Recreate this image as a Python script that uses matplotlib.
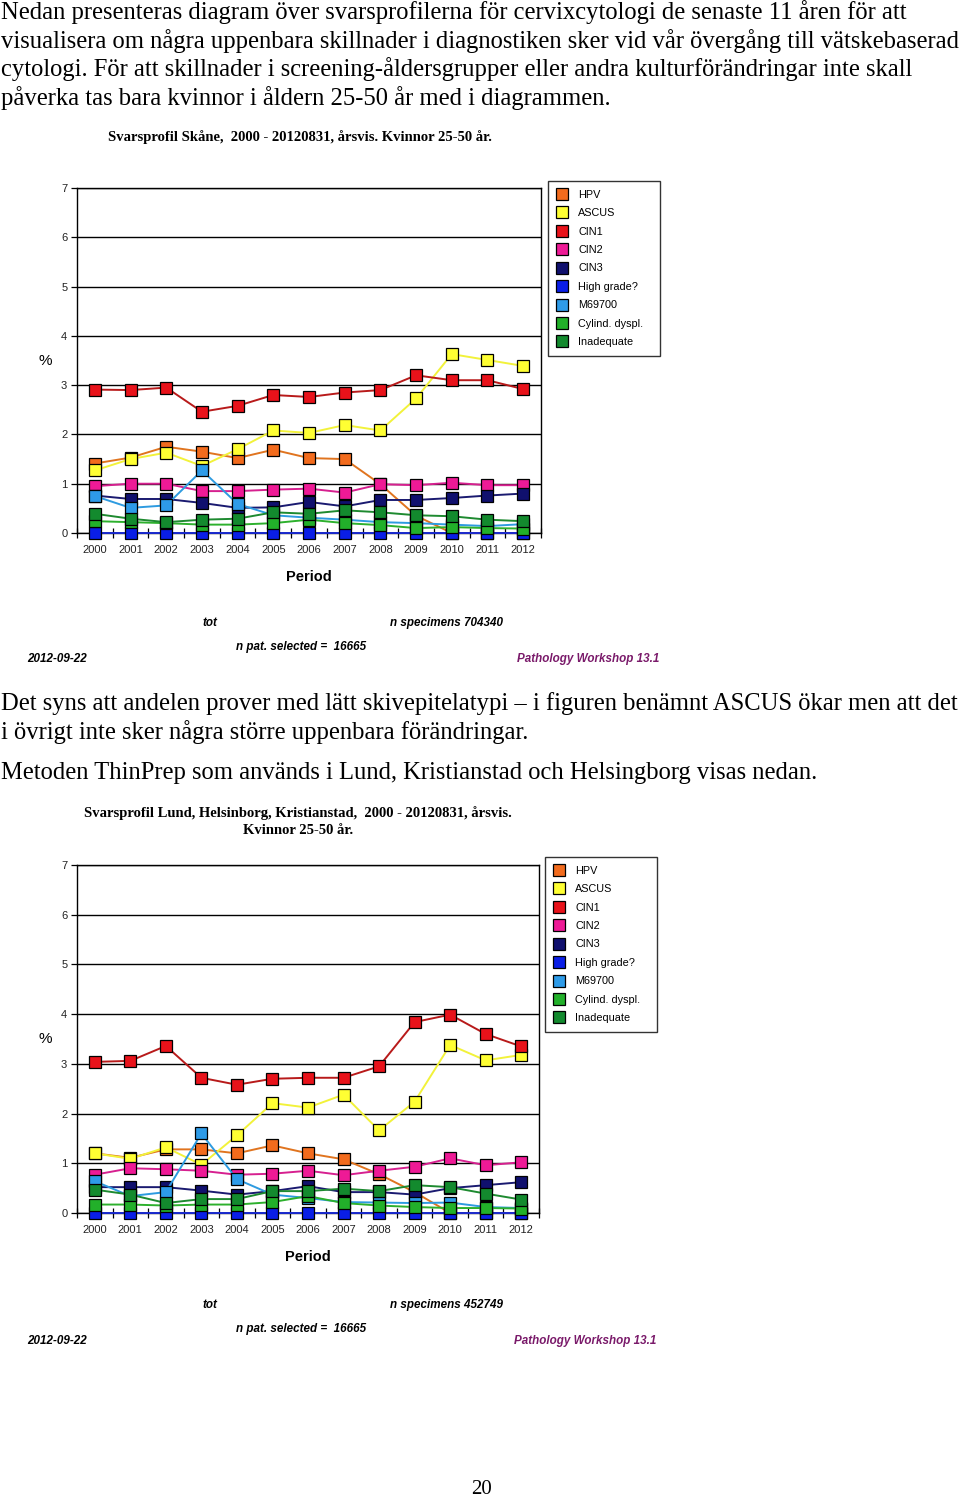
import matplotlib
matplotlib.use("Agg")
import matplotlib.pyplot as plt
from matplotlib.lines import Line2D

years = ["2000", "2001", "2002", "2003", "2004", "2005", "2006",
         "2007", "2008", "2009", "2010", "2011", "2012"]
series_names = ["HPV", "ASCUS", "CIN1", "CIN2", "CIN3", "High grade?",
                "M69700", "Cylind. dyspl.", "Inadequate"]

# Chart 1: Skåne
skane_hpv = [1.41, 1.53, 1.75, 1.65, 1.52, 1.69, 1.52, 1.50, 0.99, 0.35, 0.0, 0.0, 0.0]
skane_ascus = [1.27, 1.50, 1.63, 1.36, 1.70, 2.08, 2.03, 2.19, 2.08, 2.73, 3.63, 3.51, 3.39]
skane_cin1 = [2.91, 2.90, 2.95, 2.46, 2.58, 2.80, 2.76, 2.85, 2.90, 3.20, 3.10, 3.10, 2.92]
skane_cin2 = [0.95, 1.00, 1.00, 0.85, 0.85, 0.88, 0.90, 0.82, 0.99, 0.97, 1.02, 0.97, 0.97]
skane_cin3 = [0.76, 0.69, 0.69, 0.61, 0.51, 0.52, 0.63, 0.54, 0.67, 0.67, 0.71, 0.76, 0.80]
skane_high = [0.01] * 13
skane_m69700 = [0.75, 0.51, 0.56, 1.27, 0.59, 0.36, 0.31, 0.27, 0.22, 0.20, 0.17, 0.14, 0.18]
skane_cylind = [0.24, 0.22, 0.20, 0.17, 0.17, 0.20, 0.27, 0.20, 0.16, 0.10, 0.12, 0.10, 0.09]
skane_inadeq = [0.39, 0.29, 0.22, 0.27, 0.29, 0.42, 0.39, 0.46, 0.42, 0.36, 0.34, 0.27, 0.24]

# Chart 2: Lund, Helsingborg, Kristianstad
lund_hpv = [1.20, 1.11, 1.28, 1.28, 1.20, 1.36, 1.20, 1.08, 0.78, 0.42, 0.0, 0.0, 0.0]
lund_ascus = [1.20, 1.09, 1.32, 0.97, 1.56, 2.21, 2.12, 2.38, 1.66, 2.24, 3.38, 3.07, 3.18]
lund_cin1 = [3.04, 3.06, 3.36, 2.72, 2.58, 2.70, 2.72, 2.72, 2.95, 3.84, 3.99, 3.60, 3.35]
lund_cin2 = [0.77, 0.90, 0.88, 0.85, 0.77, 0.79, 0.85, 0.76, 0.85, 0.93, 1.10, 0.96, 1.02]
lund_cin3 = [0.52, 0.52, 0.52, 0.45, 0.37, 0.44, 0.54, 0.42, 0.42, 0.37, 0.50, 0.56, 0.62]
lund_high = [0.01] * 13
lund_m69700 = [0.64, 0.34, 0.42, 1.60, 0.68, 0.37, 0.30, 0.22, 0.21, 0.20, 0.21, 0.12, 0.10]
lund_cylind = [0.17, 0.17, 0.15, 0.17, 0.17, 0.22, 0.34, 0.20, 0.15, 0.12, 0.10, 0.10, 0.09]
lund_inadeq = [0.47, 0.37, 0.20, 0.28, 0.28, 0.44, 0.44, 0.49, 0.44, 0.56, 0.52, 0.39, 0.27]

yticks = [0, 1, 2, 3, 4, 5, 6, 7]

marker_colors = ["#F26B1D", "#FFFF33", "#E8121A", "#EE1A96", "#10106E",
                 "#0A1EE6", "#2E9BE8", "#22B02A", "#138A2E"]
line_colors = ["#E0741F", "#F2F23A", "#B81A1A", "#D6208F", "#1A1A70",
               "#1A2ACF", "#2E9BE0", "#2DB02D", "#1E8A30"]

W, H = 960, 1503
fig = plt.figure(figsize=(W / 100, H / 100), dpi=100)


def fx(px):
    return px / W


def fy(py):
    return 1 - py / H


serif = ["Liberation Serif", "DejaVu Serif"]
sans = ["Liberation Sans", "DejaVu Sans"]

body_size = 17.7
para1 = ["Nedan presenteras diagram över svarsprofilerna för cervixcytologi de senaste 11 åren för att",
         "visualisera om några uppenbara skillnader i diagnostiken sker vid vår övergång till vätskebaserad",
         "cytologi. För att skillnader i screening-åldersgrupper eller andra kulturförändringar inte skall",
         "påverka tas bara kvinnor i åldern 25-50 år med i diagrammen."]
for i, line in enumerate(para1):
    fig.text(fx(1), fy(12 + i * 28.7), line, family=serif, fontsize=body_size,
             va="center", ha="left")

para2 = [(704, "Det syns att andelen prover med lätt skivepitelatypi – i figuren benämnt ASCUS ökar men att det"),
         (732, "i övrigt inte sker några större uppenbara förändringar."),
         (773, "Metoden ThinPrep som används i Lund, Kristianstad och Helsingborg visas nedan.")]
for y, line in para2:
    fig.text(fx(1), fy(y), line, family=serif, fontsize=body_size, va="center", ha="left")

title_size = 10.5
fig.text(fx(108), fy(137), "Svarsprofil Skåne,  2000 - 20120831, årsvis. Kvinnor 25-50 år.",
         family=serif, fontsize=title_size, fontweight="bold", va="center", ha="left")
fig.text(fx(298), fy(813), "Svarsprofil Lund, Helsinborg, Kristianstad,  2000 - 20120831, årsvis.",
         family=serif, fontsize=title_size, fontweight="bold", va="center", ha="center")
fig.text(fx(298), fy(831), "Kvinnor 25-50 år.",
         family=serif, fontsize=title_size, fontweight="bold", va="center", ha="center")

fig.text(fx(482), fy(1490), "20", family=serif, fontsize=15, va="center", ha="center")


def draw_chart(rect, data, legend_xy, footer, nspec):
    left, top, right, bottom = rect
    ax = fig.add_axes([fx(left), fy(bottom), fx(right - left), (bottom - top) / H])
    x = list(range(len(years)))
    for name, vals, mc, lc in zip(series_names, data, marker_colors, line_colors):
        ax.plot(x, vals, color=lc, lw=1.4, marker="s", markersize=8,
                markerfacecolor=mc, markeredgecolor="black", markeredgewidth=0.9,
                clip_on=False, zorder=3)
    ax.set_xlim(-0.5, len(years) - 0.5)
    ax.set_ylim(0, 7)
    ax.set_yticks(yticks)
    ax.set_yticklabels([str(v) for v in yticks])
    ax.set_xticks(x)
    ax.set_xticklabels(years)
    ax.set_xticks([i - 0.5 for i in range(len(years) + 1)], minor=True)
    ax.tick_params(axis="x", which="both", direction="inout", length=7, width=0.9,
                   labelsize=8, pad=5, colors="black")
    ax.tick_params(axis="y", direction="out", length=4, width=0.9, labelsize=8, pad=3)
    for lab in ax.get_xticklabels() + ax.get_yticklabels():
        lab.set_family(sans)
        lab.set_color("#222222")
    ax.grid(axis="y", color="black", lw=1.0)
    ax.set_axisbelow(True)
    for s in ax.spines.values():
        s.set_color("black")
        s.set_linewidth(1.0)
    ax.set_ylabel("%", family=sans, fontsize=11, rotation=0, labelpad=11, va="center")
    ax.set_xlabel("Period", family=sans, fontsize=10.5, fontweight="bold", labelpad=11)

    handles = [Line2D([], [], ls="none", marker="s", markersize=8, markerfacecolor=mc,
                      markeredgecolor="black", markeredgewidth=0.9)
               for mc in marker_colors]
    leg = fig.legend(handles, series_names, loc="upper left",
                     bbox_to_anchor=(fx(legend_xy[0]), fy(legend_xy[1])),
                     frameon=True, fancybox=False, edgecolor="black",
                     prop={"family": sans, "size": 7.8}, labelspacing=0.78,
                     handlelength=1.0, handletextpad=1.0, borderpad=0.8,
                     borderaxespad=0, markerscale=1.0, alignment="left")
    leg.get_frame().set_linewidth(1.0)
    leg._legend_box.set_width(95)

    fy0 = footer
    it = dict(family=sans, fontsize=8.4, fontstyle="italic", fontweight="bold", va="center")
    fig.text(fx(203), fy(fy0), "tot", ha="left", **it)
    fig.text(fx(390), fy(fy0), "n specimens " + nspec, ha="left", **it)
    fig.text(fx(236), fy(fy0 + 24), "n pat. selected =  16665", ha="left", **it)
    fig.text(fx(27), fy(fy0 + 36), "2012-09-22", ha="left", **it)
    fig.text(fx(legend_xy[0] - 22 + 133), fy(fy0 + 36), "Pathology Workshop 13.1",
             ha="right", color="#7A1A6A", **it)


draw_chart((77, 188, 541, 533),
           [skane_hpv, skane_ascus, skane_cin1, skane_cin2, skane_cin3, skane_high,
            skane_m69700, skane_cylind, skane_inadeq],
           (548, 181), 623, "704340")
draw_chart((77, 865, 539, 1213),
           [lund_hpv, lund_ascus, lund_cin1, lund_cin2, lund_cin3, lund_high,
            lund_m69700, lund_cylind, lund_inadeq],
           (545, 857), 1305, "452749")

fig.savefig("out.png", dpi=100)
